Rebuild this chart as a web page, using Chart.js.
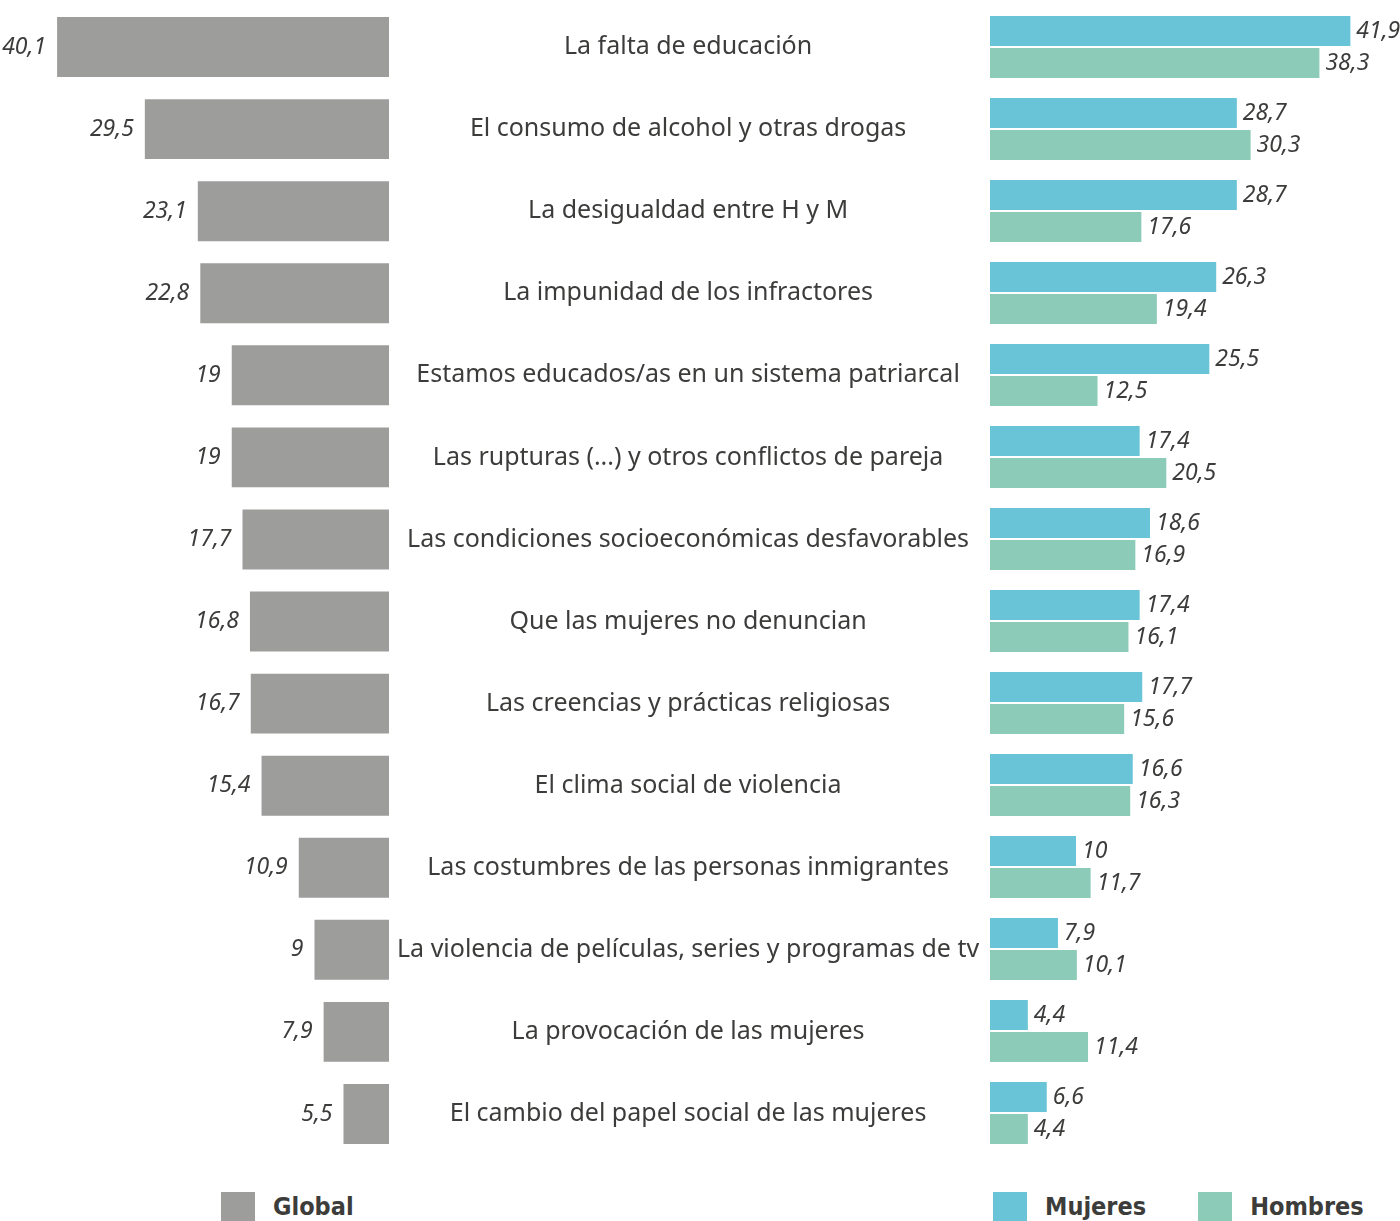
<!DOCTYPE html>
<html>
<head>
<meta charset="utf-8">
<script src="https://cdn.jsdelivr.net/npm/chart.js@4.4.1/dist/chart.umd.min.js"></script>
<style>
  html, body { margin: 0; padding: 0; background: #fff; }
  .wrap { position: relative; width: 1400px; height: 1221px; overflow: hidden; }
  #globalBox { position: absolute; left: 0; top: 6px; width: 990px; height: 1149px; }
  #sexBox { position: absolute; left: 990px; top: 0; width: 410px; height: 1160px; }
  .legend { position: absolute; top: 1192px; display: flex; align-items: flex-start; }
  .legend .item { display: flex; align-items: flex-start; margin-right: 24px; }
  .legend .sw { width: 34px; height: 29px; margin-right: 18px; }
  .legend .txt { font-family: "DejaVu Sans Condensed", "DejaVu Sans", sans-serif; font-weight: bold;
                 font-size: 25px; color: #3c3c3b; line-height: 29px; }
</style>
</head>
<body>
<div class="wrap">
  <div id="globalBox"><canvas id="globalChart"></canvas></div>
  <div id="sexBox"><canvas id="sexChart"></canvas></div>
  <div class="legend" id="legendGlobal" style="left:221px"></div>
  <div class="legend" id="legendSex" style="left:993px"></div>
</div>
<script>
// categorías (de arriba a abajo)
const categorias = [
  'La falta de educación',
  'El consumo de alcohol y otras drogas',
  'La desigualdad entre H y M',
  'La impunidad de los infractores',
  'Estamos educados/as en un sistema patriarcal',
  'Las rupturas (...) y otros conflictos de pareja',
  'Las condiciones socioeconómicas desfavorables',
  'Que las mujeres no denuncian',
  'Las creencias y prácticas religiosas',
  'El clima social de violencia',
  'Las costumbres de las personas inmigrantes',
  'La violencia de películas, series y programas de tv',
  'La provocación de las mujeres',
  'El cambio del papel social de las mujeres'
];
const globalVals  = [40.1, 29.5, 23.1, 22.8, 19, 19, 17.7, 16.8, 16.7, 15.4, 10.9, 9, 7.9, 5.5];
const mujeresVals = [41.9, 28.7, 28.7, 26.3, 25.5, 17.4, 18.6, 17.4, 17.7, 16.6, 10, 7.9, 4.4, 6.6];
const hombresVals = [38.3, 30.3, 17.6, 19.4, 12.5, 20.5, 16.9, 16.1, 15.6, 16.3, 11.7, 10.1, 11.4, 4.4];

const GRIS = '#9d9d9c';
const AZUL = '#69c4d8';
const VERDE = '#8ccbb8';
const TEXTO = '#3c3c3b';

const fmt = v => String(v).replace('.', ',');

// etiquetas de valor junto a cada barra
const valueLabels = {
  id: 'valueLabels',
  afterDatasetsDraw(chart, args, opts) {
    const ctx = chart.ctx;
    ctx.save();
    ctx.font = 'italic 23px "Noto Sans", sans-serif';
    ctx.fillStyle = TEXTO;
    ctx.textBaseline = 'middle';
    chart.data.datasets.forEach((ds, i) => {
      chart.getDatasetMeta(i).data.forEach((bar, j) => {
        if (opts.side === 'left') {
          ctx.textAlign = 'right';
          ctx.fillText(fmt(ds.data[j]), bar.x - 11, bar.y);
        } else {
          ctx.textAlign = 'left';
          ctx.fillText(fmt(ds.data[j]), bar.x + 6, bar.y);
        }
      });
    });
    ctx.restore();
  }
};

const globalChart = new Chart(document.getElementById('globalChart'), {
  type: 'bar',
  data: {
    labels: categorias,
    datasets: [{
      label: 'Global',
      data: globalVals,
      backgroundColor: GRIS,
      barPercentage: 0.73,
      categoryPercentage: 1
    }]
  },
  options: {
    indexAxis: 'y',
    responsive: true,
    maintainAspectRatio: false,
    animation: false,
    layout: { padding: 0 },
    plugins: { legend: { display: false }, tooltip: { enabled: false }, valueLabels: { side: 'left' } },
    scales: {
      x: { display: false, reverse: true, min: 0, max: 47 },
      y: {
        position: 'right',
        grid: { display: false },
        border: { display: false },
        afterFit: (scale) => {
          scale.width = 601;
          scale.paddingTop = 0;
          scale.paddingBottom = 0;
        },
        ticks: {
          crossAlign: 'center',
          padding: 0,
          color: TEXTO,
          font: { family: '"Noto Sans", sans-serif', size: 25 }
        }
      }
    }
  },
  plugins: [valueLabels]
});

const sexChart = new Chart(document.getElementById('sexChart'), {
  type: 'bar',
  data: {
    labels: categorias,
    datasets: [
      { label: 'Mujeres', data: mujeresVals, backgroundColor: AZUL, barPercentage: 0.94, categoryPercentage: 0.78 },
      { label: 'Hombres', data: hombresVals, backgroundColor: VERDE, barPercentage: 0.94, categoryPercentage: 0.78 }
    ]
  },
  options: {
    indexAxis: 'y',
    responsive: true,
    maintainAspectRatio: false,
    animation: false,
    layout: { padding: { top: 6, bottom: 6, left: 0, right: 0 } },
    plugins: { legend: { display: false }, tooltip: { enabled: false }, valueLabels: { side: 'right' } },
    scales: {
      x: { display: false, min: 0, max: 47.67 },
      y: { display: false }
    }
  },
  plugins: [valueLabels]
});

// leyendas a partir de los datasets
function buildLegend(chart, el) {
  chart.data.datasets.forEach((ds, i) => {
    const item = document.createElement('div');
    item.className = 'item';
    if (i > 0) item.style.marginLeft = '28px';
    item.innerHTML = '<div class="sw" style="background:' + ds.backgroundColor + '"></div><div class="txt">' + ds.label + '</div>';
    el.appendChild(item);
  });
}
buildLegend(globalChart, document.getElementById('legendGlobal'));
buildLegend(sexChart, document.getElementById('legendSex'));
</script>
</body>
</html>
